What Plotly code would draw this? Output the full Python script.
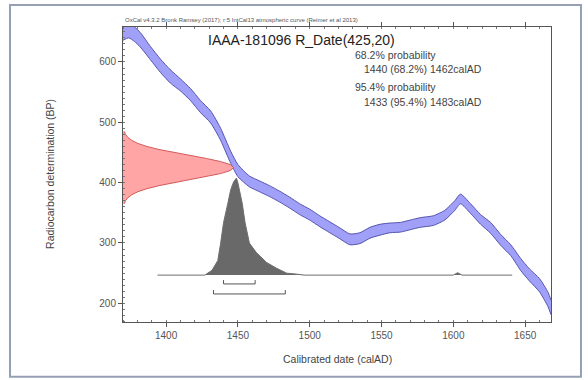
import plotly.graph_objects as go

# Calibration curve (IntCal13)
cal_year = [1370, 1374, 1378, 1382, 1389, 1396, 1403, 1410, 1417, 1424, 1431, 1438, 1445, 1450,
            1458, 1465, 1472, 1479, 1486, 1493, 1500, 1507, 1514, 1521, 1528, 1535, 1542, 1549,
            1556, 1563, 1570, 1577, 1586, 1594, 1601, 1605, 1612, 1619, 1626, 1633, 1640, 1647,
            1653, 1660, 1666, 1668]
cal_bp = [648, 652, 646, 637, 615, 594, 576, 562, 546, 526, 509, 480, 442, 420,
          402, 394, 386, 377, 367, 356, 347, 336, 326, 316, 306, 308, 317, 322,
          325, 326, 330, 334, 337, 346, 362, 373, 357, 339, 325, 305, 288, 264,
          247, 230, 206, 193]
cal_sigma = [12, 12, 12, 12, 11, 11, 11, 10, 10, 10, 10, 10, 10, 10,
             9, 9, 9, 9, 9, 9, 9, 9, 9, 9, 9, 9, 9, 9,
             8, 8, 8, 8, 8, 8, 8, 8, 8, 8, 9, 9, 9, 10,
             10, 11, 12, 12]

# Radiocarbon measurement R_Date(425,20), relative density
r_bp = [365, 370, 375, 380, 385, 390, 395, 400, 405, 410, 415, 420, 425,
        430, 435, 440, 445, 450, 455, 460, 465, 470, 475, 480, 485]
r_rel = [0.011, 0.023, 0.044, 0.080, 0.135, 0.216, 0.325, 0.458, 0.607, 0.755, 0.882, 0.969, 1.0,
         0.969, 0.882, 0.755, 0.607, 0.458, 0.325, 0.216, 0.135, 0.080, 0.044, 0.023, 0.011]

# Calibrated probability distribution (relative)
post_year = [1394, 1427, 1432, 1436, 1438, 1440, 1443, 1445, 1447, 1449, 1450, 1453, 1455, 1458,
             1463, 1470, 1477, 1484, 1491, 1496, 1600, 1603, 1606, 1641]
post_prob = [0, 0, 0.05, 0.15, 0.33, 0.54, 0.74, 0.88, 0.96, 1.0, 0.95, 0.74, 0.54, 0.33,
             0.23, 0.13, 0.07, 0.02, 0.01, 0, 0, 0.025, 0, 0]

# Ranges
range68 = [1440, 1462]
range95 = [1433, 1483]

x_ticks = [1400, 1450, 1500, 1550, 1600, 1650]
y_ticks = [200, 300, 400, 500, 600]

FONT = "Liberation Sans, Arial, sans-serif"
TXT = "#444444"

fig = go.Figure()

# red measurement distribution on y-axis
fig.add_trace(go.Scatter(x=r_rel, y=r_bp, xaxis="x2", yaxis="y", mode="lines",
                         line=dict(color="rgb(210,90,90)", width=1),
                         fill="tozerox", fillcolor="rgb(255,165,165)", hoverinfo="skip"))

# grey calibrated distribution
fig.add_trace(go.Scatter(x=post_year, y=post_prob, xaxis="x", yaxis="y2", mode="lines",
                         line=dict(color="rgb(110,110,110)", width=1),
                         fill="tozeroy", fillcolor="rgb(105,105,105)", hoverinfo="skip"))

# calibration curve band
upper = [b + s for b, s in zip(cal_bp, cal_sigma)]
lower = [b - s for b, s in zip(cal_bp, cal_sigma)]
fig.add_trace(go.Scatter(x=cal_year, y=upper, mode="lines",
                         line=dict(color="rgb(85,85,175)", width=1, shape="spline", smoothing=0.6),
                         hoverinfo="skip"))
fig.add_trace(go.Scatter(x=cal_year, y=lower, mode="lines",
                         line=dict(color="rgb(85,85,175)", width=1, shape="spline", smoothing=0.6),
                         fill="tonexty", fillcolor="rgb(160,160,248)", hoverinfo="skip"))

shapes = []
# range brackets (in y2 units)
for rng, yb in [(range68, -0.091), (range95, -0.194)]:
    th = 0.04
    shapes.append(dict(type="path", xref="x", yref="y2",
                       path=f"M {rng[0]},{yb+th} L {rng[0]},{yb} L {rng[1]},{yb} L {rng[1]},{yb+th}",
                       line=dict(color="#555555", width=1)))
# outer frame
shapes.append(dict(type="rect", xref="paper", yref="paper", x0=-0.264, x1=1.07, y0=-0.186, y1=1.075,
                   line=dict(color="rgb(150,160,180)", width=2), layer="below"))

annotations = [
    dict(text="IAAA-181096 R_Date(425,20)", x=0.416, y=0.956, xref="paper", yref="paper",
         showarrow=False, xanchor="center", yanchor="middle",
         font=dict(family=FONT, size=14, color="#222222")),
    dict(text="OxCal v4.3.2 Bronk Ramsey (2017); r:5 IntCal13 atmospheric curve (Reimer et al 2013)",
         x=0.276, y=1.024, xref="paper", yref="paper", showarrow=False,
         xanchor="center", yanchor="middle", font=dict(family=FONT, size=6, color="#555555")),
    dict(text="68.2% probability", x=0.537, y=(322 - 55) / 295, xref="paper", yref="paper",
         showarrow=False, xanchor="left", yanchor="middle", font=dict(family=FONT, size=10.5, color=TXT)),
    dict(text="1440 (68.2%) 1462calAD", x=0.558, y=(322 - 69) / 295, xref="paper", yref="paper",
         showarrow=False, xanchor="left", yanchor="middle", font=dict(family=FONT, size=10.5, color=TXT)),
    dict(text="95.4% probability", x=0.537, y=(322 - 87) / 295, xref="paper", yref="paper",
         showarrow=False, xanchor="left", yanchor="middle", font=dict(family=FONT, size=10.5, color=TXT)),
    dict(text="1433 (95.4%) 1483calAD", x=0.558, y=(322 - 102) / 295, xref="paper", yref="paper",
         showarrow=False, xanchor="left", yanchor="middle", font=dict(family=FONT, size=10.5, color=TXT)),
    dict(text="Radiocarbon determination (BP)", x=(50 - 123) / 428, y=0.502, xref="paper", yref="paper",
         showarrow=False, textangle=-90, xanchor="center", yanchor="middle",
         font=dict(family=FONT, size=10.5, color=TXT)),
    dict(text="Calibrated date (calAD)", x=0.5, y=(322 - 359) / 295, xref="paper", yref="paper",
         showarrow=False, xanchor="center", yanchor="middle",
         font=dict(family=FONT, size=10.5, color=TXT)),
]

axis_common = dict(showgrid=False, zeroline=False, showline=True, linecolor="#555555", linewidth=1,
                   ticks="outside", ticklen=4, tickcolor="#555555", tickwidth=1,
                   tickfont=dict(family=FONT, size=10, color="#555555"))

fig.update_layout(
    width=588, height=380,
    margin=dict(l=123, r=37, t=27, b=58),
    paper_bgcolor="white", plot_bgcolor="white",
    showlegend=False,
    xaxis=dict(range=[1370, 1668], tickvals=x_ticks, ticktext=[str(v) for v in x_ticks],
               mirror="ticks", minor=dict(dtick=10, ticks="inside", ticklen=2, tickcolor="#777777"),
               **axis_common),
    yaxis=dict(range=[169, 658], tickvals=y_ticks, ticktext=[str(v) for v in y_ticks],
               mirror=True, minor=dict(dtick=10, ticks="inside", ticklen=2, tickcolor="#777777"),
               **axis_common),
    xaxis2=dict(range=[0, 3.87], overlaying="x", visible=False),
    yaxis2=dict(range=[-0.483, 2.556], overlaying="y", visible=False),
    shapes=shapes,
    annotations=annotations,
)

fig.write_html("out.html", config={"displayModeBar": False},
               post_script="document.body.style.margin='0';document.body.style.overflow='hidden';")
